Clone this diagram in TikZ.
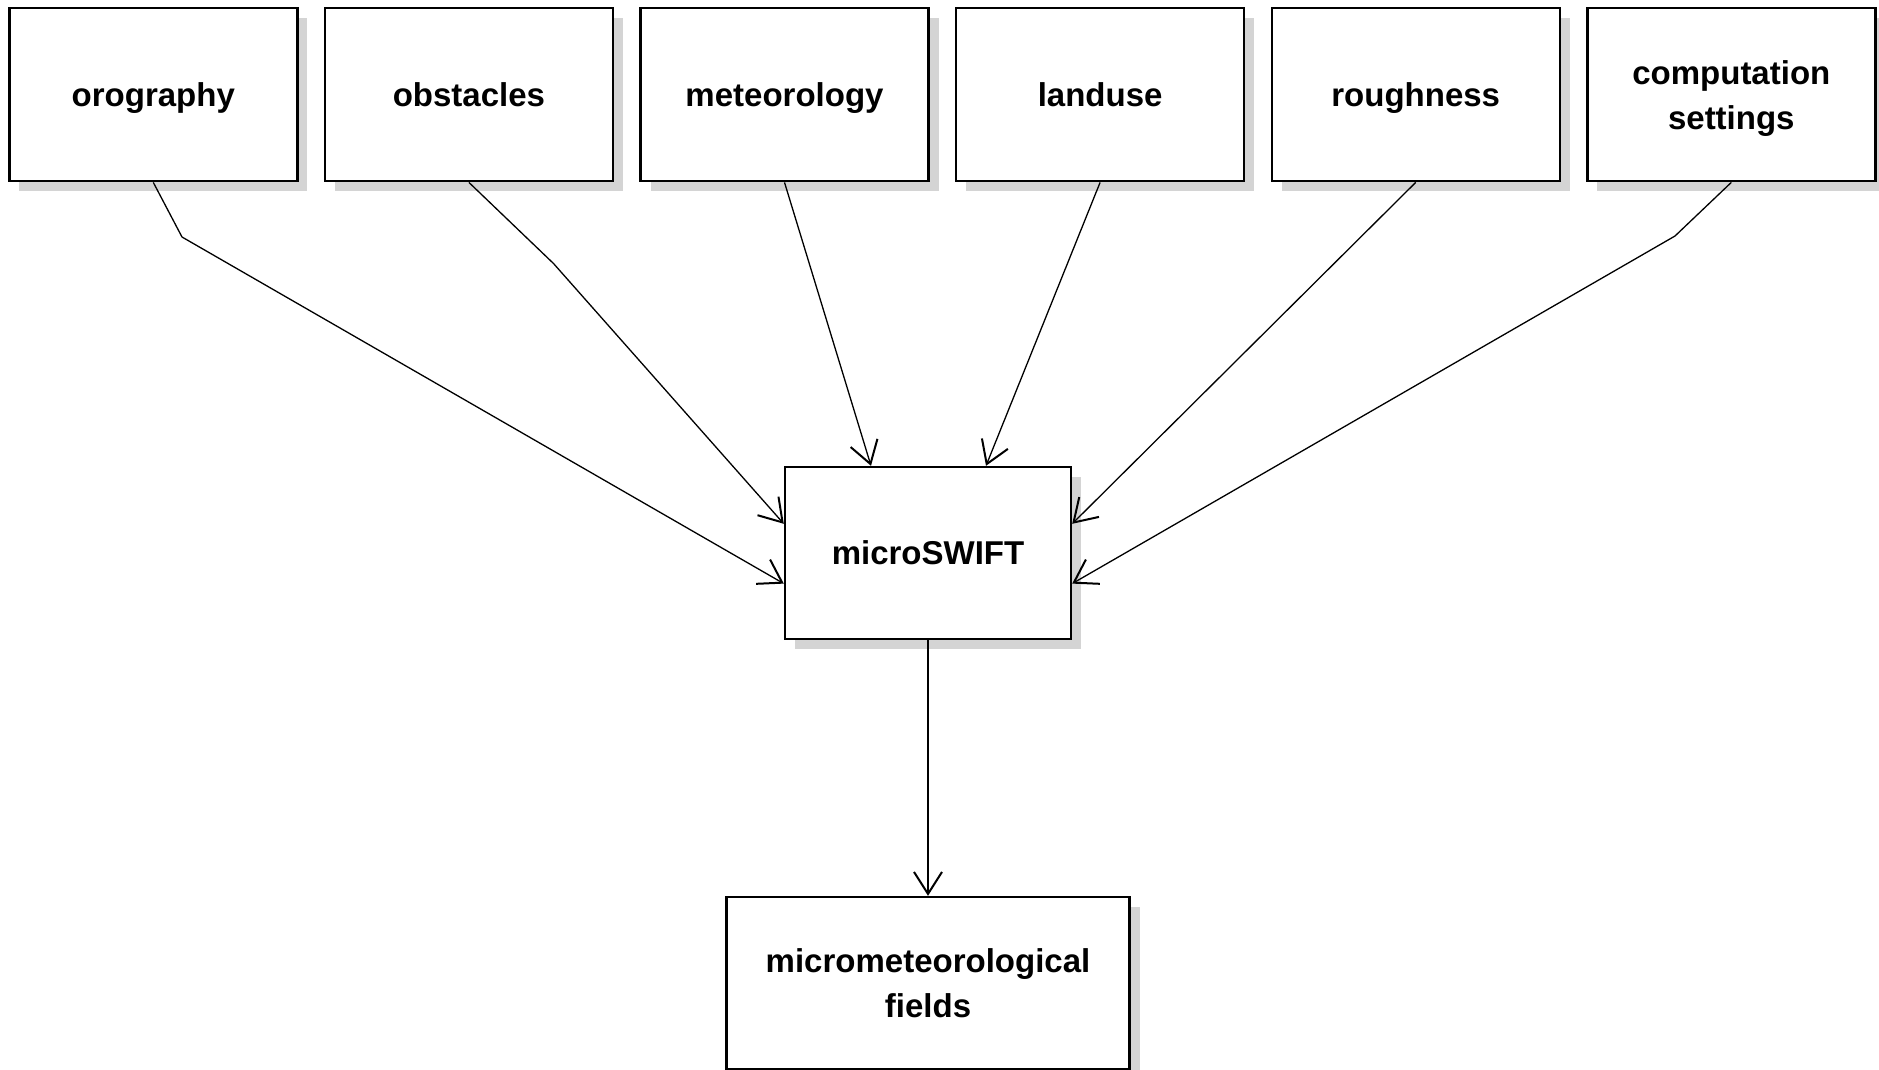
\documentclass[tikz,border=0pt]{standalone}
\usepackage{fontspec}
\setmainfont{Liberation Sans}
\usetikzlibrary{positioning,arrows.meta,shadows}

\begin{document}
\begin{tikzpicture}[
    x=0.5pt, y=-0.5pt,
    node distance=127.8pt and 12.6pt,
    box/.style={rectangle, draw, line width=1.2pt, fill=white,
        minimum width=144pt, minimum height=86.5pt, align=center, text depth=0pt,
        font=\fontsize{16.5}{22.5}\selectfont\bfseries,
        drop shadow={shadow xshift=5pt, shadow yshift=-5pt, fill=black!17, opacity=1}},
    feed/.style={line width=0.65pt, -{Straight Barb[length=11pt, width=14pt, line width=1pt]}}
]
    \useasboundingbox (0,0) rectangle (1879,1070);

    \node[box] (oro) at (153.3,94.7) {orography};
    \node[box, right=of oro] (obst) {obstacles};
    \node[box, right=of obst] (meteo) {meteorology};
    \node[box, right=of meteo] (land) {landuse};
    \node[box, right=of land] (rough) {roughness};
    \node[box, right=of rough] (comp) {computation\\settings};

    \node[box, minimum width=143pt, minimum height=86pt] (swift) at (928,553) {microSWIFT};
    \node[box, minimum width=201.5pt, minimum height=86pt, below=of swift] (fields) {micrometeorological\\fields};

    \draw[feed] (oro.south) -- (182,237) -- ([yshift=-15.3pt]swift.west);
    \draw[feed] (obst.south) -- (553.6,263.6) -- ([yshift=14.6pt]swift.west);
    \draw[feed] (meteo.south) -- ([xshift=-28.5pt]swift.north);
    \draw[feed] (land.south) -- ([xshift=29pt]swift.north);
    \draw[feed] (rough.south) -- ([yshift=14.6pt]swift.east);
    \draw[feed] (comp.south) -- (1675,236) -- ([yshift=-15.3pt]swift.east);
    \draw[feed] (swift.south) -- (fields.north);
\end{tikzpicture}
\end{document}
